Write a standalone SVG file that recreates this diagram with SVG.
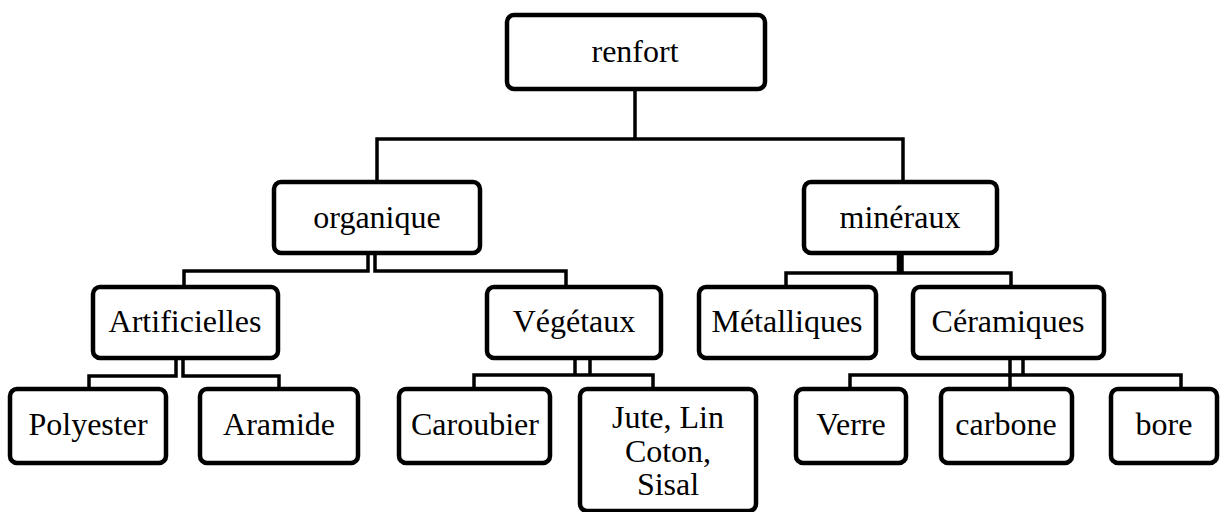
<svg xmlns="http://www.w3.org/2000/svg" width="1222" height="512" viewBox="0 0 1222 512">
<style>
.box{fill:#fff;stroke:#000;stroke-width:4.5}
.lbl{font-family:"Liberation Serif","Times New Roman",serif;font-size:32px;fill:#000;text-anchor:middle}
.con{fill:none;stroke:#000;stroke-width:3.5;stroke-linejoin:miter;stroke-linecap:butt}
</style>
<rect width="1222" height="512" fill="#fff"/>
<g id="connectors">
<path class="con" d="M635,91 V139 M377,182 V139 H903 V182"/>
<path class="con" d="M368,255 V271 H184 V287"/>
<path class="con" d="M375,255 V271 H566 V287"/>
<path class="con" d="M898.5,255 V273 M902,255 V273 M786,287 V273 H1011 V287"/>
<path class="con" d="M176,360 V376 H89 V389"/>
<path class="con" d="M183,360 V376 H279 V389"/>
<path class="con" d="M575,360 V375 M590,360 V375 M474,389 V375 H653 V389"/>
<path class="con" d="M1010,360 V375 M1023,360 V375 M850,389 V375 H1181 V389 M1010,375 V389"/>
</g>
<g id="renfort"><rect class="box" x="507" y="15" width="258" height="74" rx="7"/><text class="lbl" x="635" y="62">renfort</text></g>
<g id="organique"><rect class="box" x="274" y="182" width="206" height="71" rx="7"/><text class="lbl" x="377" y="228">organique</text></g>
<g id="mineraux"><rect class="box" x="804" y="182" width="193" height="71" rx="7"/><text class="lbl" x="900" y="228">minéraux</text></g>
<g id="artificielles"><rect class="box" x="93" y="287" width="185" height="71" rx="7"/><text class="lbl" x="185" y="332">Artificielles</text></g>
<g id="vegetaux"><rect class="box" x="487" y="287" width="174" height="71" rx="7"/><text class="lbl" x="574" y="332">Végétaux</text></g>
<g id="metalliques"><rect class="box" x="699" y="287" width="177" height="71" rx="7"/><text class="lbl" x="787" y="332">Métalliques</text></g>
<g id="ceramiques"><rect class="box" x="913" y="287" width="191" height="71" rx="7"/><text class="lbl" x="1008" y="332">Céramiques</text></g>
<g id="polyester"><rect class="box" x="10" y="389" width="156" height="74" rx="7"/><text class="lbl" x="88" y="435">Polyester</text></g>
<g id="aramide"><rect class="box" x="200" y="389" width="158" height="74" rx="7"/><text class="lbl" x="279" y="435">Aramide</text></g>
<g id="caroubier"><rect class="box" x="399" y="389" width="151" height="74" rx="7"/><text class="lbl" x="475" y="435">Caroubier</text></g>
<g id="jute"><rect class="box" x="580" y="389" width="176" height="122" rx="7"/><text class="lbl" x="668" y="428">Jute, Lin</text><text class="lbl" x="668" y="461.5">Coton,</text><text class="lbl" x="668" y="495">Sisal</text></g>
<g id="verre"><rect class="box" x="796" y="389" width="110" height="74" rx="7"/><text class="lbl" x="851" y="435">Verre</text></g>
<g id="carbone"><rect class="box" x="941" y="389" width="131" height="74" rx="7"/><text class="lbl" x="1006" y="435">carbone</text></g>
<g id="bore"><rect class="box" x="1111" y="389" width="106" height="74" rx="7"/><text class="lbl" x="1164" y="435">bore</text></g>
</svg>
